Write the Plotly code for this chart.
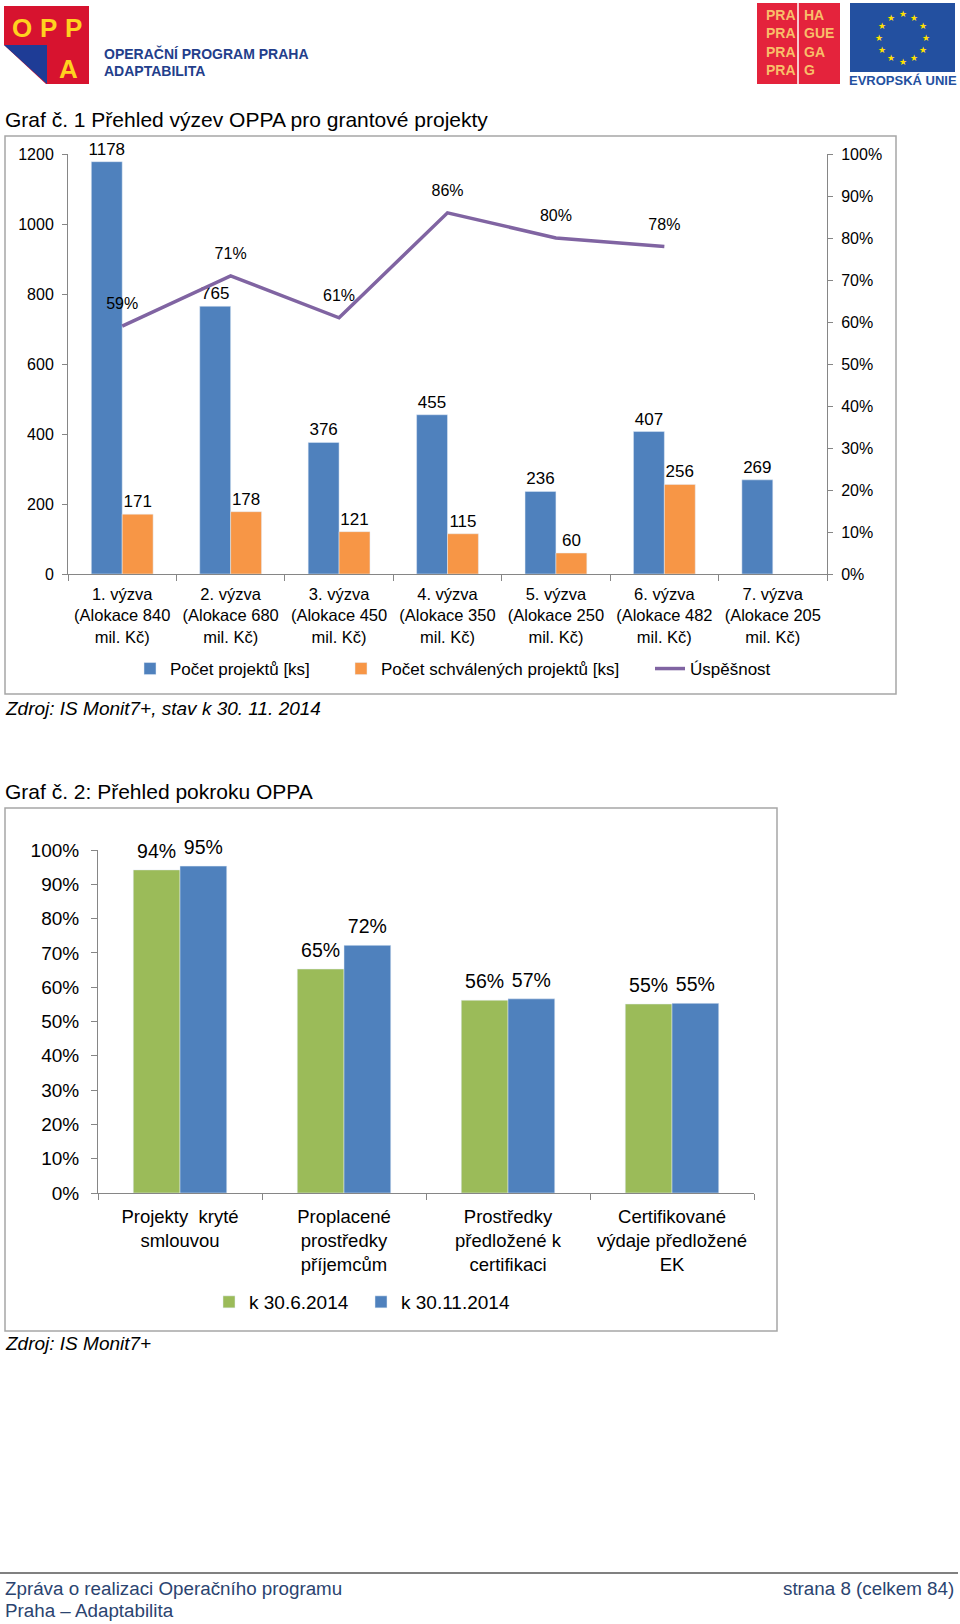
import math
import plotly.graph_objects as go

W, H = 960, 1624
FONT = "Liberation Sans, Arial, sans-serif"


def px(x):
    return x / W


def py(y):
    return 1 - y / H


# ---------------- Data: chart 1 ----------------
calls = [
    "1. výzva<br>(Alokace 840<br>mil. Kč)",
    "2. výzva<br>(Alokace 680<br>mil. Kč)",
    "3. výzva<br>(Alokace 450<br>mil. Kč)",
    "4. výzva<br>(Alokace 350<br>mil. Kč)",
    "5. výzva<br>(Alokace 250<br>mil. Kč)",
    "6. výzva<br>(Alokace 482<br>mil. Kč)",
    "7. výzva<br>(Alokace 205<br>mil. Kč)",
]
projects = [1178, 765, 376, 455, 236, 407, 269]
approved = [171, 178, 121, 115, 60, 256, None]
success = [0.59, 0.71, 0.61, 0.86, 0.80, 0.78, None]

# ---------------- Data: chart 2 ----------------
progress_cats = [
    "Projekty  kryté<br>smlouvou",
    "Proplacené<br>prostředky<br>příjemcům",
    "Prostředky<br>předložené k<br>certifikaci",
    "Certifikované<br>výdaje předložené<br>EK",
]
june_2014 = [0.942, 0.653, 0.562, 0.551]
nov_2014 = [0.953, 0.722, 0.566, 0.553]

BLUE = "#4F81BD"
ORANGE = "#F79646"
GREEN = "#9BBB59"
PURPLE = "#8064A2"
AXIS = "#868686"
CLEAR = "rgba(0,0,0,0)"

fig = go.Figure()

# ---------- chart 1 ----------
fig.add_trace(go.Bar(
    x=calls, y=projects, name="Počet projektů [ks]", marker_color=BLUE,
    texttemplate="%{y}", textposition="outside", constraintext="none",
    cliponaxis=False, textfont=dict(size=17, color="black"),
    xaxis="x", yaxis="y", legend="legend", offsetgroup="proj",
))
fig.add_trace(go.Bar(
    x=calls, y=approved, name="Počet schválených projektů [ks]", marker_color=ORANGE,
    texttemplate="%{y}", textposition="outside", constraintext="none",
    cliponaxis=False, textfont=dict(size=17, color="black"),
    xaxis="x", yaxis="y", legend="legend3", offsetgroup="appr",
))
fig.add_trace(go.Scatter(
    x=calls, y=success, name="Úspěšnost", mode="lines",
    line=dict(color=PURPLE, width=3.5), xaxis="x3", yaxis="y2",
    legend="legend4", hoverinfo="skip", offsetgroup="succ",
))
fig.add_trace(go.Scatter(
    x=calls, y=success, mode="markers+text", texttemplate="%{y:.0%}",
    marker=dict(size=19, color=CLEAR),
    textposition="top center", textfont=dict(size=16, color="black"),
    showlegend=False, cliponaxis=False, xaxis="x3", yaxis="y2",
    hoverinfo="skip", offsetgroup="succ",
))

# ---------- chart 2 ----------
fig.add_trace(go.Bar(
    x=progress_cats, y=june_2014, name="k 30.6.2014", marker_color=GREEN,
    xaxis="x2", yaxis="y3", legend="legend2", offsetgroup="jun",
))
fig.add_trace(go.Bar(
    x=progress_cats, y=nov_2014, name="k 30.11.2014", marker_color=BLUE,
    xaxis="x2", yaxis="y3", legend="legend5", offsetgroup="nov",
))
fig.add_trace(go.Scatter(
    x=progress_cats, y=june_2014, mode="markers+text", texttemplate="%{y:.0%}",
    marker=dict(size=10, color=CLEAR), textposition="top center",
    textfont=dict(size=19.5, color="black"), cliponaxis=False,
    showlegend=False, xaxis="x2", yaxis="y3", offsetgroup="jun", hoverinfo="skip",
))
fig.add_trace(go.Scatter(
    x=progress_cats, y=nov_2014, mode="markers+text", texttemplate="%{y:.0%}",
    marker=dict(size=10, color=CLEAR), textposition="top center",
    textfont=dict(size=19.5, color="black"), cliponaxis=False,
    showlegend=False, xaxis="x2", yaxis="y3", offsetgroup="nov", hoverinfo="skip",
))

axis_common = dict(showline=True, linecolor=AXIS, linewidth=1, ticks="outside",
                   tickcolor=AXIS, showgrid=False, zeroline=False, fixedrange=True)


def leg(x, y, size):
    return dict(orientation="h", x=px(x), y=py(y), xanchor="left", yanchor="middle",
                font=dict(size=size), bgcolor=CLEAR, borderwidth=0)


layout = dict(
    width=W, height=H, autosize=False,
    margin=dict(l=0, r=0, t=0, b=0, pad=0, autoexpand=False),
    paper_bgcolor="white", plot_bgcolor="white",
    font=dict(family=FONT, color="black", size=16),
    barmode="group", bargap=0.43, bargroupgap=0,
    scattermode="group", scattergap=0.43,
    xaxis=dict(domain=[px(68), px(827)], anchor="y", tickson="boundaries",
               ticklen=6, tickfont=dict(size=16.5), ticklabelstandoff=5,
               tickangle=0, categoryorder="array", categoryarray=calls,
               **axis_common),
    xaxis3=dict(domain=[px(68), px(827)], anchor="y2", overlaying="x",
                visible=False, fixedrange=True, type="category",
                categoryorder="array", categoryarray=calls,
                range=[-0.5, len(calls) - 0.5]),
    yaxis=dict(domain=[py(574), py(154)], range=[0, 1200], dtick=200,
               ticklen=5, tickfont=dict(size=16), anchor="x",
               ticklabelstandoff=5, **axis_common),
    yaxis2=dict(overlaying="y", side="right", range=[0, 1], dtick=0.1,
                tickformat=".0%", ticklen=5, tickfont=dict(size=16),
                anchor="x", ticklabelstandoff=5, **axis_common),
    xaxis2=dict(domain=[px(98), px(754)], anchor="y3", tickson="boundaries",
                ticklen=6, tickfont=dict(size=18.5), ticklabelstandoff=7,
                tickangle=0, **axis_common),
    yaxis3=dict(domain=[py(1193), py(850)], range=[0, 1], dtick=0.1,
                tickformat=".0%", ticklen=6, tickfont=dict(size=19),
                anchor="x2", ticklabelstandoff=8, **axis_common),
    legend=leg(130, 669, 17),
    legend3=leg(341, 669, 17),
    legend4=leg(650, 669, 17),
    legend2=leg(209, 1302, 19),
    legend5=leg(361, 1302, 19),
)

shapes = []
annotations = []


def rect(x0, y0, x1, y1, fill=None, line=None, lw=0):
    shapes.append(dict(type="rect", xref="paper", yref="paper",
                       x0=px(x0), x1=px(x1), y0=py(y1), y1=py(y0),
                       fillcolor=fill if fill else CLEAR,
                       line=dict(color=line if line else CLEAR, width=lw),
                       layer="below"))


def poly(points, fill):
    d = "M " + " L ".join(f"{px(x)},{py(y)}" for x, y in points) + " Z"
    shapes.append(dict(type="path", xref="paper", yref="paper", path=d,
                       fillcolor=fill, line=dict(width=0), layer="below"))


def text(x, y, s, size=16, color="black", xanchor="left", yanchor="middle",
         bold=False, italic=False, family=FONT):
    if bold:
        s = f"<b>{s}</b>"
    if italic:
        s = f"<i>{s}</i>"
    annotations.append(dict(xref="paper", yref="paper", x=px(x), y=py(y), text=s,
                            showarrow=False, xanchor=xanchor, yanchor=yanchor,
                            font=dict(size=size, color=color, family=family)))


# chart boxes
rect(5, 136, 896, 694, line="#A6A6A6", lw=1.5)
rect(5, 808, 777, 1331, line="#A6A6A6", lw=1.5)

# titles & sources
text(3, 119, "Graf č. 1 Přehled výzev OPPA pro grantové projekty", size=21)
text(3, 708, "Zdroj: IS Monit7+, stav k 30. 11. 2014", size=19, italic=True)
text(3, 792, "Graf č. 2: Přehled pokroku OPPA", size=21)
text(3, 1343, "Zdroj: IS Monit7+", size=19, italic=True)

# footer
shapes.append(dict(type="line", xref="paper", yref="paper", x0=0, x1=px(958),
                   y0=py(1573), y1=py(1573), line=dict(color="#808080", width=2)))
FOOT = "#2B4470"
text(3, 1588, "Zpráva o realizaci Operačního programu", size=18.8, color=FOOT)
text(3, 1610, "Praha – Adaptabilita", size=18.8, color=FOOT)
text(956, 1588, "strana 8 (celkem 84)", size=18.8, color=FOOT, xanchor="right")

# OPPA logo
RED = "#D7132F"
YEL = "#FFD21F"
rect(4, 6, 89, 84, fill=RED)
poly([(4, 45), (4, 85), (47, 85)], "white")
poly([(4, 45), (47, 45), (47, 84)], "#1E3C96")
for lx, ch in [(22, "O"), (48, "P"), (73, "P")]:
    text(lx, 28, ch, size=26, color=YEL, xanchor="center", bold=True)
text(68, 69, "A", size=26, color=YEL, xanchor="center", bold=True)
text(102, 53, "OPERAČNÍ PROGRAM PRAHA", size=14, color="#233E8B", bold=True)
text(102, 71, "ADAPTABILITA", size=14, color="#233E8B", bold=True)

# Praha logo
rect(757, 3, 840, 84, fill="#E4233C")
shapes.append(dict(type="line", xref="paper", yref="paper", x0=px(798), x1=px(798),
                   y0=py(3), y1=py(84), line=dict(color="white", width=1.5)))
PCOL = "#F8BE6A"
for ry, right in [(15, "HA"), (33, "GUE"), (52, "GA"), (70, "G")]:
    text(764, ry, "PRA", size=14, color=PCOL, bold=True)
    text(802, ry, right, size=14, color=PCOL, bold=True)

# EU logo
rect(850, 3, 955, 72, fill="#2350A0")
cx, cy, r = 902.5, 38, 23.5
for k in range(12):
    a = 2 * math.pi * k / 12
    text(cx + r * math.sin(a), cy - r * math.cos(a), "★", size=9, color="#FFE100",
         xanchor="center", family="DejaVu Sans")
text(902.5, 81, "EVROPSKÁ UNIE", size=13, color="#2350A0", xanchor="center", bold=True)

layout["shapes"] = shapes
layout["annotations"] = annotations
fig.update_layout(**layout)

fig.write_html(
    "out.html",
    post_script="document.body.style.margin='0px';document.body.style.padding='0px';",
)
